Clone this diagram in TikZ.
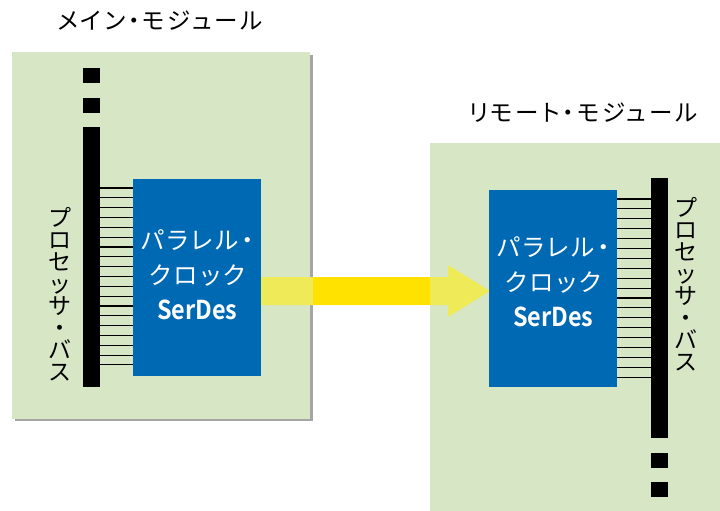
\documentclass[tikz,border=0pt]{standalone}
\usepackage{fontspec}
\newfontfamily\jp{Noto Sans CJK JP}[BoldFont={* Bold}, RawFeature=+palt]
\newfontfamily\jpw{Noto Sans CJK JP}[RawFeature=+palt, LetterSpace=12]
\newfontfamily\jpsd{Noto Sans CJK JP}[BoldFont={* Bold}, FakeStretch=0.9]
\definecolor{modgreen}{RGB}{215,231,197}
\definecolor{sdblue}{RGB}{0,105,180}
\definecolor{ylw}{RGB}{255,226,0}
\definecolor{lylw}{RGB}{239,234,88}
\definecolor{shadowgray}{RGB}{165,165,165}
\tikzset{
  module/.style={fill=modgreen, draw=none, inner sep=0pt, anchor=north west},
  sdbox/.style={fill=sdblue, draw=none, inner sep=0pt, anchor=north west},
  sdtext/.style={text=white, font=\jpw\fontsize{24.5}{35}\selectfont, align=center, inner sep=0pt},
  busbar/.style={fill=black, draw=none, inner sep=0pt, anchor=north west},
  busdot/.style={fill=black, draw=none, inner sep=0pt, minimum width=17pt, minimum height=15pt, anchor=north west},
  busline/.style={draw=black, line width=1.1pt},
  vtext/.style={font=\jp\fontsize{23}{22}\selectfont, align=center, inner sep=0pt},
  title/.style={font=\jpw\fontsize{23.5}{24}\selectfont, inner sep=0pt}
}
\begin{document}
\begin{tikzpicture}[x=1pt,y=-1pt]
\useasboundingbox (0,0) rectangle (720,511);
\fill[white] (0,0) rectangle (720,511);
% main module with shadow
\fill[shadowgray] (15,55) rectangle (313,421);
\node[module, minimum width=298pt, minimum height=367pt] (main) at (12,52) {};
% remote module
\node[module, minimum width=290pt, minimum height=368pt] (remote) at (430,143) {};
% titles
\node[title] (t1) at (160,21) {メイン・モジュール};
\node[title] (t2) at (583,113) {リモート・モジュール};
% arrow
\fill[lylw] (261,277) -- (448,277) -- (448,265) -- (490,291) -- (448,317) -- (448,305) -- (261,305) -- cycle;
\fill[ylw] (313,277) rectangle (430,305);
% blue boxes
\node[sdbox, minimum width=128pt, minimum height=197pt] (sd1) at (133,179) {};
\node[sdbox, minimum width=128pt, minimum height=197pt] (sd2) at (489,190) {};
\node[sdtext] (sd1t) at (sd1.center |- 0,275) {パラレル・\\クロック\\{\jpsd\bfseries\fontsize{26}{35}\selectfont SerDes}};
\node[sdtext] (sd2t) at (sd2.center |- 0,282) {パラレル・\\クロック\\{\jpsd\bfseries\fontsize{26}{35}\selectfont SerDes}};
% main bus
\node[busbar, minimum width=17pt, minimum height=245pt] (bus1) at (83,142) {};
\node[busdot] (d11) at (83,68) {};
\node[busdot] (d12) at (83,98) {};
\node[busdot] (d13) at (83,127) {};
\foreach \i in {0,...,18}{
  \draw[busline] (100,188+\i*9.83) -- (133,188+\i*9.83);
}
\node[vtext] (v1) at (60,294) {プ\\ロ\\セ\\ッ\\サ\\・\\バ\\ス};
% remote bus
\node[busbar, minimum width=17pt, minimum height=245pt] (bus2) at (651,178) {};
\node[busdot] (d21) at (651,423) {};
\node[busdot] (d22) at (651,453) {};
\node[busdot] (d23) at (651,482) {};
\foreach \i in {0,...,18}{
  \draw[busline] (617,199+\i*9.9) -- (651,199+\i*9.9);
}
\node[vtext] (v2) at (686,284) {プ\\ロ\\セ\\ッ\\サ\\・\\バ\\ス};
\end{tikzpicture}
\end{document}
